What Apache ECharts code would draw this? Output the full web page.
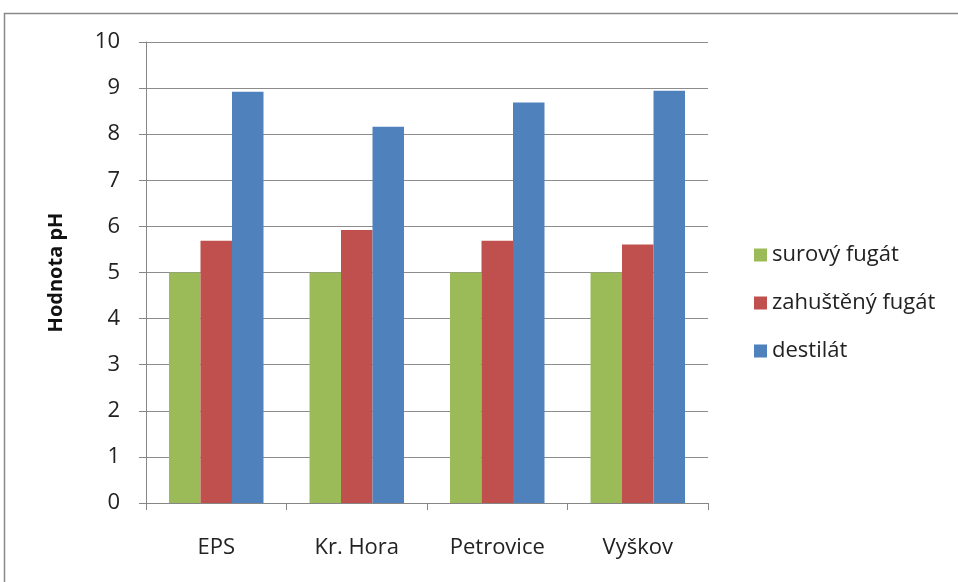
<!DOCTYPE html>
<html><head><meta charset="utf-8">
<script src="https://cdn.jsdelivr.net/npm/echarts@6/dist/echarts.min.js"></script>
<style>html,body{margin:0;padding:0;background:#fff}#c{width:958px;height:582px}</style>
</head><body><div id="c"></div>
<script>
const categories = ['EPS', 'Kr. Hora', 'Petrovice', 'Vyškov'];
const surovy = [5.0, 5.0, 5.0, 5.0];
const zahusteny = [5.69, 5.92, 5.69, 5.61];
const destilat = [8.92, 8.16, 8.69, 8.94];
const seriesNames = ['surový fugát', 'zahuštěný fugát', 'destilát'];
const yTicks = [0, 10, 1];

const font = '"Open Sans", "Liberation Sans", sans-serif';
const chart = echarts.init(document.getElementById('c'), null, {renderer: 'canvas'});
chart.setOption({
  animation: false,
  color: ['#9bbb59', '#c0504d', '#4f81bd'],
  graphic: [{
    type: 'rect', shape: {x: 4.5, y: 13.5, width: 1000, height: 600},
    style: {fill: 'none', stroke: '#898989', lineWidth: 1.5}, silent: true
  }],
  grid: {left: 146, right: 250, top: 42, bottom: 79},
  legend: {
    orient: 'vertical', left: 749, top: 239, itemGap: 26,
    itemWidth: 13, itemHeight: 13, icon: 'rect',
    textStyle: {fontFamily: font, fontSize: 22, color: '#222'},
    data: seriesNames
  },
  xAxis: {
    type: 'category', data: categories,
    axisLine: {lineStyle: {color: '#868686', width: 1}},
    axisTick: {show: true, length: 7, lineStyle: {color: '#868686'}},
    axisLabel: {fontFamily: font, fontSize: 22, color: '#222', margin: 34}
  },
  yAxis: {
    type: 'value', min: yTicks[0], max: yTicks[1], interval: yTicks[2],
    name: 'Hodnota pH', nameLocation: 'middle', nameGap: 80, nameRotate: 90,
    nameTextStyle: {fontFamily: font, fontSize: 20, fontWeight: 'bold', color: '#111'},
    axisLine: {show: true, lineStyle: {color: '#868686'}},
    axisTick: {show: true, inside: false, length: 7, lineStyle: {color: '#868686'}},
    axisLabel: {fontFamily: font, fontSize: 22, color: '#222', margin: 26},
    splitLine: {lineStyle: {color: '#8c8c8c', width: 1}}
  },
  series: [
    {name: seriesNames[0], type: 'bar', data: surovy, barWidth: 31.5, barGap: '0%'},
    {name: seriesNames[1], type: 'bar', data: zahusteny, barWidth: 31.5, barGap: '0%'},
    {name: seriesNames[2], type: 'bar', data: destilat, barWidth: 31.5, barGap: '0%'}
  ]
});
</script></body></html>
